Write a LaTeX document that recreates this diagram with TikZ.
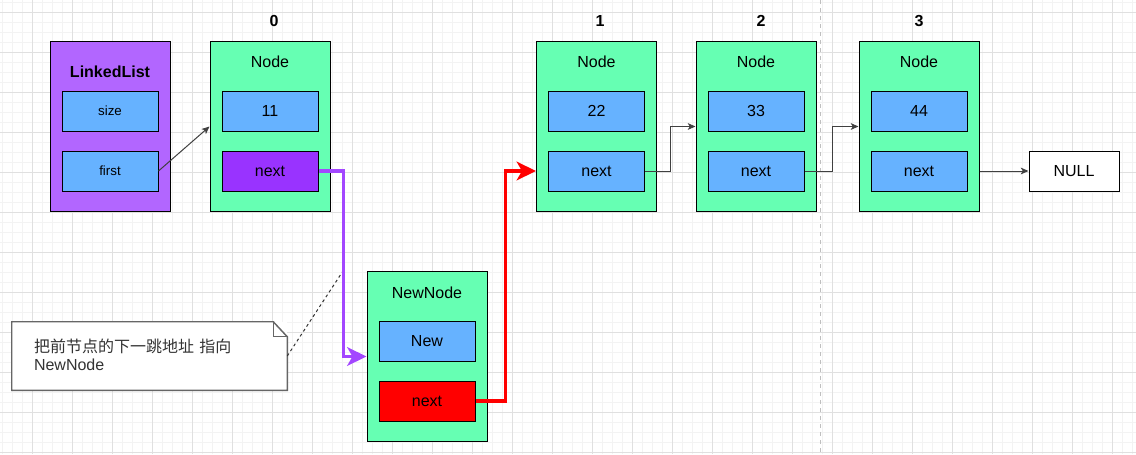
\documentclass[tikz,border=0pt]{standalone}
\usepackage{fontspec}
\setmainfont{Liberation Sans}
\newfontfamily\cjk{Noto Sans CJK SC}
\usetikzlibrary{arrows.meta}

\definecolor{holdergreen}{HTML}{66FFB3}
\definecolor{fieldblue}{HTML}{66B2FF}
\definecolor{listlilac}{HTML}{B266FF}
\definecolor{nextpurple}{HTML}{9933FF}
\definecolor{linkpurple}{HTML}{A347FF}
\definecolor{gridmaj}{HTML}{E0E0E0}
\definecolor{gridmin}{HTML}{F3F3F3}
\definecolor{notetext}{HTML}{333333}

\tikzset{
  holder/.style={draw=black, line width=0.75pt, fill=holdergreen, minimum width=90pt, minimum height=127.5pt, inner sep=0pt},
  field/.style={draw=black, line width=0.75pt, fill=fieldblue, minimum width=72pt, minimum height=30pt, inner sep=0pt, font=\fontsize{12}{14}\selectfont},
  title/.style={font=\fontsize{12}{14}\selectfont, inner sep=0pt},
  index/.style={font=\fontsize{12}{14}\selectfont\bfseries, inner sep=0pt},
  pointer/.style={draw=black!75, line width=0.75pt, -{Stealth[length=5.8pt, width=5pt, inset=1.5pt]}},
  bigpointer/.style={line width=2.3pt, -{Stealth[length=14.5pt, width=14pt, inset=4pt]}}
}

\begin{document}
\begin{tikzpicture}[x=0.75pt, y=-0.75pt]
    \useasboundingbox (0,0) rectangle (1136,454);
    \fill[white] (0,0) rectangle (1136,454);

    % Background grid
    \foreach \gx in {2,12,...,1132} \draw[gridmin, line width=0.75pt] (\gx,0) -- (\gx,454);
    \foreach \gy in {2,12,...,452} \draw[gridmin, line width=0.75pt] (0,\gy) -- (1136,\gy);
    \foreach \gx in {32,72,...,1112} \draw[gridmaj, line width=0.75pt] (\gx,0) -- (\gx,454);
    \foreach \gy in {12,52,...,452} \draw[gridmaj, line width=0.75pt] (0,\gy) -- (1136,\gy);

    % Dashed separator
    \draw[black!25, line width=0.75pt, dash pattern=on 3pt off 3pt] (820,0) -- (820,454);

    % Draw the LinkedList head
    \node[holder, fill=listlilac] (list) at (110,126.5) {};
    \node[title, font=\fontsize{12}{14}\selectfont\bfseries] (listtitle) at (110,72) {LinkedList};
    \node[field, font=\fontsize{10}{12}\selectfont] (size) at (110,111) {size};
    \node[field, font=\fontsize{10}{12}\selectfont] (first) at (110,171) {first};

    % Draw node 0
    \node[index] (idx0) at (274,21) {0};
    \node[holder] (n0) at (270,126.5) {};
    \node[title] (n0title) at (270,62) {Node};
    \node[field] (n0val) at (270,111) {11};
    \node[field, fill=nextpurple] (n0next) at (270,171) {next};

    % Draw node 1
    \node[index] (idx1) at (600,21) {1};
    \node[holder] (n1) at (596.5,126.5) {};
    \node[title] (n1title) at (596.5,62) {Node};
    \node[field] (n1val) at (596.5,111) {22};
    \node[field] (n1next) at (596.5,171) {next};

    % Draw node 2
    \node[index] (idx2) at (761,21) {2};
    \node[holder] (n2) at (756,126.5) {};
    \node[title] (n2title) at (756,62) {Node};
    \node[field] (n2val) at (756,111) {33};
    \node[field] (n2next) at (756,171) {next};

    % Draw node 3
    \node[index] (idx3) at (919,21) {3};
    \node[holder] (n3) at (919,126.5) {};
    \node[title] (n3title) at (919,62) {Node};
    \node[field] (n3val) at (919,111) {44};
    \node[field] (n3next) at (919,171) {next};

    % End of the list
    \node[field, fill=white, minimum width=67.5pt] (null) at (1074,171) {NULL};

    % Draw the inserted node
    \node[holder] (newnode) at (427,356.5) {};
    \node[title] (newtitle) at (427,292.5) {NewNode};
    \node[field] (newval) at (427,341) {New};
    \node[field, fill=red] (newnext) at (427,401) {next};

    % Draw the note with its folded corner
    \node[fill=white, minimum width=206.25pt, minimum height=51pt, text width=173.25pt, inner xsep=16.5pt, align=left,
          text=notetext, font=\fontsize{12}{13.5}\selectfont] (note) at (149.5,356)
          {{\cjk 把前节点的下一跳地址 指向}\\NewNode\vphantom{g}\\[-4pt]};
    \draw[black!60, line width=1.1pt] (note.south west) -- (note.north west) -- ([xshift=-10.5pt]note.north east)
          -- ([yshift=-11.25pt]note.north east) -- (note.south east) -- cycle;
    \draw[black!60, line width=0.75pt] ([xshift=-10.5pt]note.north east) -- ([xshift=-10.5pt, yshift=-11.25pt]note.north east)
          -- ([yshift=-11.25pt]note.north east);
    \coordinate (hint) at (343,271);
    \draw[black!80, line width=0.75pt, dash pattern=on 2.2pt off 2.2pt] (note.east) -- (hint);

    % Draw arrows between nodes
    \draw[pointer] (first.east) -- (n0.west);
    \draw[bigpointer, linkpurple] (n0next.east) -- ++(25,0) |- (newnode.west);
    \draw[bigpointer, red] (newnext.east) -- ++(30,0) |- (n1.west |- n1next.east);
    \draw[pointer] (n1next.east) -- ++(25.5,0) |- (n2.west);
    \draw[pointer] (n2next.east) -- ++(27.5,0) |- (n3.west);
    \draw[pointer] (n3.east |- n3next.east) -- (null.west);

\end{tikzpicture}
\end{document}
